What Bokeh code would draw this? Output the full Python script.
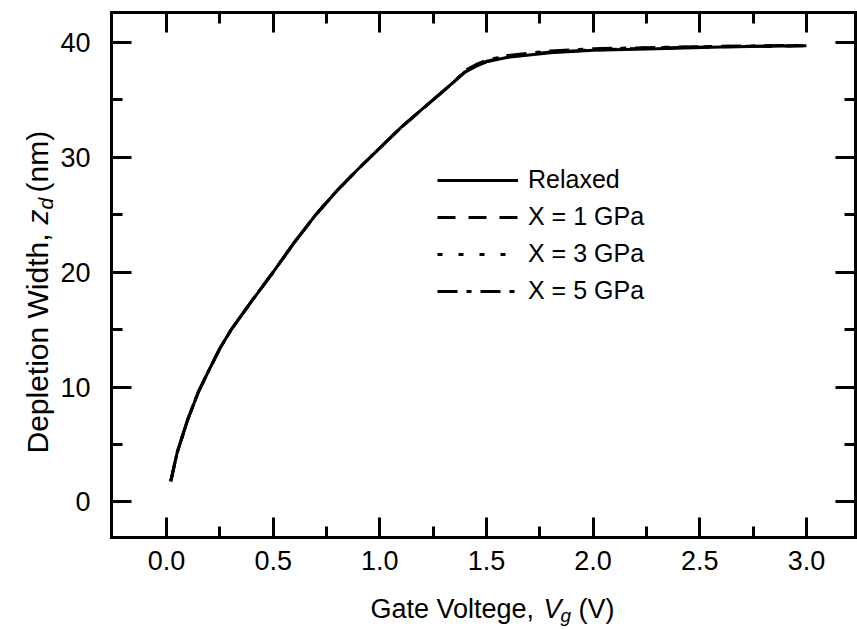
import math
from bokeh.plotting import figure
from bokeh.models import (Range1d, LinearAxis, Label, Legend, LegendItem,
                          FixedTicker, NumeralTickFormatter, CustomJSTickFormatter)
from bokeh.embed import file_html
from bokeh.resources import INLINE

# ---------------- data ----------------
vg = [0.02, 0.05, 0.1, 0.15, 0.2, 0.25, 0.3, 0.4, 0.5, 0.6, 0.7, 0.8, 0.9, 1.0,
      1.1, 1.2, 1.3, 1.35, 1.4, 1.45, 1.5, 1.6, 1.8, 2.0, 2.3, 2.6, 3.0]
relaxed = [1.8, 4.3, 7.2, 9.6, 11.5, 13.35, 14.9, 17.5, 20.0, 22.6, 25.0, 27.1, 29.0, 30.8,
           32.6, 34.2, 35.8, 36.6, 37.4, 37.9, 38.3, 38.7, 39.1, 39.3, 39.45, 39.6, 39.7]
x1gpa = [1.8, 4.3, 7.2, 9.6, 11.5, 13.35, 14.9, 17.5, 20.0, 22.6, 25.0, 27.1, 29.0, 30.8,
         32.6, 34.2, 35.8, 36.6, 37.45, 37.95, 38.35, 38.75, 39.15, 39.35, 39.5, 39.62, 39.7]
x3gpa = [1.8, 4.3, 7.2, 9.6, 11.5, 13.35, 14.9, 17.5, 20.0, 22.6, 25.0, 27.1, 29.0, 30.8,
         32.6, 34.2, 35.8, 36.6, 37.5, 38.0, 38.4, 38.8, 39.2, 39.4, 39.52, 39.64, 39.72]
x5gpa = [1.8, 4.3, 7.2, 9.6, 11.5, 13.35, 14.9, 17.5, 20.0, 22.6, 25.0, 27.1, 29.0, 30.8,
         32.6, 34.2, 35.8, 36.6, 37.55, 38.05, 38.45, 38.85, 39.25, 39.45, 39.55, 39.66, 39.74]
series_labels = ["Relaxed", "X = 1 GPa", "X = 3 GPa", "X = 5 GPa"]
series_values = [relaxed, x1gpa, x3gpa, x5gpa]
series_dashes = ["solid", "18 13", "5 16", "20 9 5 9"]

x_major = [0.0, 0.5, 1.0, 1.5, 2.0, 2.5, 3.0]
x_minor = [0.25, 0.75, 1.25, 1.75, 2.25, 2.75]
y_major = [0, 10, 20, 30, 40]
y_minor = [5, 15, 25, 35]

# visible box of the axes (data units)
XLO, XHI = -0.258, 3.23
YLO, YHI = -3.1, 42.6

FONT = "Liberation Sans"

# the plotting frame covers the whole canvas; the drawn box is made of 4 bounded axes
p = figure(width=857, height=629, output_backend="svg", toolbar_location=None,
           x_range=Range1d(-0.7783, 3.2396), y_range=Range1d(-11.105, 43.64),
           x_axis_location=None, y_axis_location=None, min_border=0,
           background_fill_color="white", border_fill_color="white")
p.grid.visible = False
p.outline_line_color = None

def make_axis(ticks, minor, bounds, loc, labels=True):
    ax = LinearAxis(ticker=FixedTicker(ticks=ticks, minor_ticks=minor),
                    bounds=bounds, fixed_location=loc)
    ax.axis_line_color = "black"
    ax.axis_line_width = 3
    ax.axis_line_cap = "square"
    ax.major_tick_in = 20
    ax.major_tick_out = 0
    ax.minor_tick_in = 11
    ax.minor_tick_out = 0
    ax.major_tick_line_width = 3
    ax.minor_tick_line_width = 3
    ax.major_tick_line_color = "black"
    ax.minor_tick_line_color = "black"
    ax.major_label_text_font = FONT
    ax.major_label_text_font_size = "27px" if labels else "0px"
    ax.major_label_text_color = "black"
    if not labels:
        ax.formatter = CustomJSTickFormatter(code="return ''")
        ax.major_label_standoff = 0
    return ax

bottom = make_axis(x_major, x_minor, (XLO, XHI), YLO)
bottom.formatter = NumeralTickFormatter(format="0.0")
bottom.major_label_standoff = 13
p.add_layout(bottom, "below")

left = make_axis(y_major, y_minor, (YLO, YHI), XLO)
left.major_label_standoff = 21
p.add_layout(left, "left")

p.add_layout(make_axis(x_major, x_minor, (XLO, XHI), YHI, labels=False), "above")
p.add_layout(make_axis(y_major, y_minor, (YLO, YHI), XHI, labels=False), "right")

renderers = []
for vals, dash in zip(series_values, series_dashes):
    r = p.line(vg, vals, line_color="black", line_width=3, line_dash=dash)
    renderers.append(r)

legend = Legend(items=[LegendItem(label=lab, renderers=[r])
                       for lab, r in zip(series_labels, renderers)],
                location=(437, 324), glyph_width=81, glyph_height=28,
                label_height=28, label_standoff=10, spacing=8, padding=0, margin=0,
                background_fill_alpha=0, border_line_color=None,
                label_text_font=FONT, label_text_font_size="25px",
                label_text_color="black")
p.add_layout(legend)

# ---- axis titles (data units, inside the full-canvas frame) ----
def lab(text, x, y, size, italic=False, angle=0.0):
    p.add_layout(Label(x=x, y=y, x_units="data", y_units="data", text=text,
                       text_font=FONT, text_font_size=size,
                       text_font_style="italic" if italic else "normal",
                       text_color="black", text_align="left",
                       text_baseline="alphabetic", angle=angle))

lab("Gate Voltege, ", 0.956, -9.36, "27px")
lab("V", 1.767, -9.36, "27px", italic=True)
lab("g", 1.847, -9.88, "19px", italic=True)
lab("(V)", 1.932, -9.36, "27px")

A = math.pi / 2
lab("Depletion Width, ", -0.605, 4.21, "30px", angle=A)
lab("z", -0.605, 24.15, "30px", italic=True, angle=A)
lab("d", -0.567, 25.45, "21px", italic=True, angle=A)
lab("(nm)", -0.605, 26.93, "30px", angle=A)

open("out.html", "w").write(file_html(p, INLINE))
